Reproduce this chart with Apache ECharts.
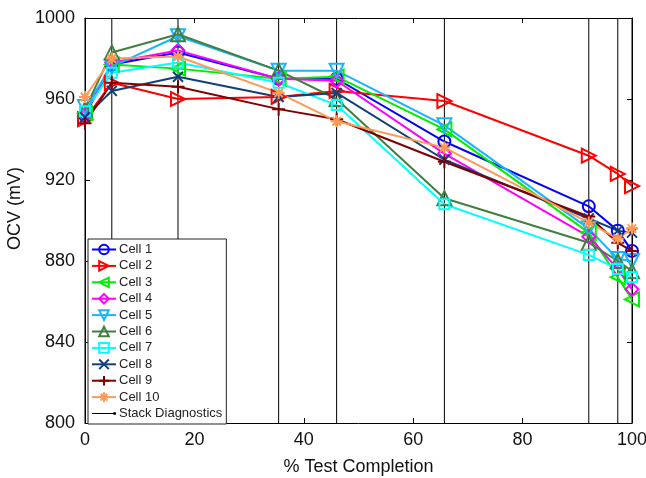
<!DOCTYPE html>
<html>
<head>
<meta charset="utf-8">
<script src="https://cdn.jsdelivr.net/npm/echarts@6/dist/echarts.min.js"></script>
<style>
  html, body { margin: 0; padding: 0; background: #fff; }
  #chart { width: 646px; height: 478px; }
</style>
</head>
<body>
<div id="chart"></div>
<script>
// Test progress (%) at which each diagnostic was taken
const testPct = [0, 4.9, 17, 35.4, 46, 65.7, 92.1, 97.4, 100];

// Open-circuit voltage per cell (mV) at each diagnostic
const cell1  = [952, 977, 983, 970, 970, 939, 907, 895, 885];
const cell2  = [950, 968, 960, 961, 964, 959, 932, 923, 917];
const cell3  = [953, 977, 975, 970, 971, 945, 894, 872, 861];
const cell4  = [952, 978, 984, 970, 969, 933, 892, 876, 866];
const cell5  = [956, 976, 991, 974, 974, 947, 896, 881, 880];
const cell6  = [955, 983, 992, 974, 960, 911, 889, 880, 875];
const cell7  = [954, 973, 978, 968, 957, 908, 883, 876, 872];
const cell8  = [951, 964, 971, 961, 963, 930, 901, 895, 894];
const cell9  = [948, 968, 966, 955, 950, 929, 902, 889, 885];
const cell10 = [961, 980, 981, 963, 949, 936, 899, 891, 896];

const cellNames = ['Cell 1', 'Cell 2', 'Cell 3', 'Cell 4', 'Cell 5',
                   'Cell 6', 'Cell 7', 'Cell 8', 'Cell 9', 'Cell 10'];
const cellValues = [cell1, cell2, cell3, cell4, cell5, cell6, cell7, cell8, cell9, cell10];
const diagName = 'Stack Diagnostics';

// Axis ranges / ticks
const xMin = 0, xMax = 100, xStep = 20;
const yMin = 800, yMax = 1000, yStep = 40;

const FONT = "'Liberation Sans', Arial, Helvetica, sans-serif";

const crossPath = 'path://M0,0L10,10M10,0L0,10';
const plusPath  = 'path://M5,0L5,10M0,5L10,5';
const starPath  = 'path://M5,0L5,10M0,5L10,5M1.5,1.5L8.5,8.5M8.5,1.5L1.5,8.5';
// short line with a dot at its right end
const diagIcon  = 'path://M0,4.6H18V5.4H0Z M17.8,4H20V6H17.8Z';

// Marker look per cell
const cellStyles = [
  { color: '#0000ff', symbol: 'circle',   rotate: 0,   size: 12 },
  { color: '#ff0000', symbol: 'triangle', rotate: -90, size: 14 },
  { color: '#00ee00', symbol: 'triangle', rotate: 90,  size: 14 },
  { color: '#ff00ff', symbol: 'diamond',  rotate: 0,   size: 13 },
  { color: '#19b4ff', symbol: 'triangle', rotate: 180, size: 14 },
  { color: '#3f7f3f', symbol: 'triangle', rotate: 0,   size: 14 },
  { color: '#00ffff', symbol: 'rect',     rotate: 0,   size: 10 },
  { color: '#123f7a', symbol: crossPath,  rotate: 0,   size: 10 },
  { color: '#7f0000', symbol: plusPath,   rotate: 0,   size: 13 },
  { color: '#ff9955', symbol: starPath,   rotate: 0,   size: 12 }
];

const series = cellNames.map((name, i) => {
  const st = cellStyles[i];
  return {
    name: name,
    type: 'line',
    data: testPct.map((x, k) => [x, cellValues[i][k]]),
    symbol: st.symbol,
    symbolSize: st.size,
    symbolRotate: st.rotate,
    showSymbol: true,
    clip: false,
    lineStyle: { color: st.color, width: 2 },
    itemStyle: { color: 'rgba(255,255,255,0)', borderColor: st.color, borderWidth: 2 },
    emphasis: { disabled: true },
    z: 3
  };
});

// Vertical reference lines at each stack diagnostic
const diagData = [];
testPct.forEach(x => {
  diagData.push([x, yMin], [x, yMax], [x, null]);
});
series.push({
  name: diagName,
  type: 'line',
  data: diagData,
  connectNulls: false,
  showSymbol: false,
  lineStyle: { color: '#000', width: 1 },
  itemStyle: { color: '#000' },
  emphasis: { disabled: true },
  z: 2
});

const legendData = cellNames.map(n => ({ name: n }));
legendData.push({ name: diagName, icon: diagIcon });

const axisLine = { show: true, onZero: false, lineStyle: { color: '#000', width: 1 } };
const tickIn = { show: true, inside: true, length: 5, lineStyle: { color: '#000' } };

const chart = echarts.init(document.getElementById('chart'), null, { renderer: 'canvas' });
chart.setOption({
  animation: false,
  backgroundColor: '#fff',
  grid: { left: 85, right: 14, top: 18, bottom: 55, outerBoundsMode: 'none' },
  legend: {
    orient: 'vertical',
    left: 88,
    top: 239,
    padding: [4, 4, 4, 3],
    itemWidth: 24,
    itemHeight: 12,
    itemGap: 3.4,
    symbolKeepAspect: true,
    backgroundColor: '#fff',
    borderColor: '#222',
    borderWidth: 1,
    borderRadius: 0,
    textStyle: { fontFamily: FONT, fontSize: 13, lineHeight: 12, color: '#222', padding: [0, 0, 0, -2] },
    data: legendData
  },
  xAxis: [{
    type: 'value', min: xMin, max: xMax, interval: xStep,
    position: 'bottom',
    name: '% Test Completion', nameLocation: 'middle', nameGap: 35,
    nameTextStyle: { fontFamily: FONT, fontSize: 18, color: '#111' },
    axisLine: axisLine, axisTick: tickIn,
    axisLabel: { fontFamily: FONT, fontSize: 18, color: '#111', margin: 8 },
    splitLine: { show: false }
  }, {
    type: 'value', min: xMin, max: xMax, interval: xStep,
    position: 'top',
    axisLine: axisLine, axisTick: tickIn,
    axisLabel: { show: false }, splitLine: { show: false }
  }],
  yAxis: [{
    type: 'value', min: yMin, max: yMax, interval: yStep,
    position: 'left',
    name: 'OCV (mV)', nameLocation: 'middle', nameGap: 52,
    nameTextStyle: { fontFamily: FONT, fontSize: 18, color: '#111', padding: [0, 0, 0, 24] },
    axisLine: axisLine, axisTick: tickIn,
    axisLabel: { fontFamily: FONT, fontSize: 18, color: '#111', margin: 10, formatter: v => String(v) },
    splitLine: { show: false }
  }, {
    type: 'value', min: yMin, max: yMax, interval: yStep,
    position: 'right',
    axisLine: axisLine, axisTick: tickIn,
    axisLabel: { show: false }, splitLine: { show: false }
  }],
  series: series
});
</script>
</body>
</html>
